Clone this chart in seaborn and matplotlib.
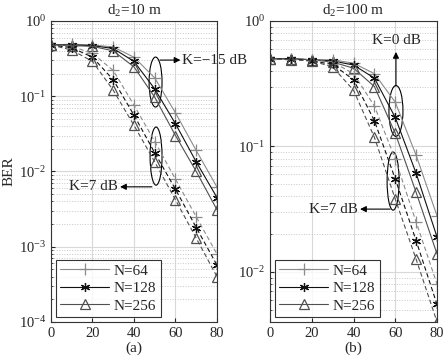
import numpy as np
import pandas as pd
import matplotlib
matplotlib.use('Agg')
import matplotlib.pyplot as plt
import seaborn as sns
from matplotlib.patches import Ellipse
from matplotlib.lines import Line2D
from matplotlib.ticker import LogLocator, NullFormatter

# Дані
snr = [0, 10, 20, 30, 40, 50, 60, 70, 80]
n_labels = ['N=64', 'N=128', 'N=256']

# (a) d2=10 m, K=-15 dB (суцільні) та K=7 dB (штрихові)
a_k15_n64 = [0.48, 0.49, 0.48, 0.45, 0.33, 0.175, 0.060, 0.019, 0.0062]
a_k15_n128 = [0.48, 0.48, 0.47, 0.43, 0.29, 0.125, 0.043, 0.0134, 0.0045]
a_k15_n256 = [0.48, 0.47, 0.46, 0.40, 0.245, 0.097, 0.030, 0.010, 0.0031]
a_k7_n64 = [0.48, 0.46, 0.37, 0.22, 0.076, 0.025, 0.0079, 0.0025, 0.0008]
a_k7_n128 = [0.48, 0.44, 0.33, 0.165, 0.056, 0.0177, 0.0058, 0.0018, 0.00057]
a_k7_n256 = [0.48, 0.41, 0.29, 0.12, 0.041, 0.0134, 0.0042, 0.0013, 0.0004]

# (b) d2=100 m, K=0 dB (суцільні) та K=7 dB (штрихові)
b_k0_n64 = [0.5, 0.5, 0.49, 0.49, 0.46, 0.38, 0.225, 0.085, 0.028]
b_k0_n128 = [0.5, 0.5, 0.49, 0.48, 0.445, 0.35, 0.17, 0.061, 0.019]
b_k0_n256 = [0.5, 0.5, 0.49, 0.47, 0.42, 0.30, 0.127, 0.043, 0.0139]
b_k7_n64 = [0.5, 0.5, 0.49, 0.47, 0.38, 0.21, 0.079, 0.025, 0.008]
b_k7_n128 = [0.5, 0.5, 0.48, 0.45, 0.34, 0.16, 0.055, 0.0177, 0.0055]
b_k7_n256 = [0.5, 0.49, 0.48, 0.43, 0.28, 0.118, 0.038, 0.0126, 0.0040]

sns.set_style('ticks')
plt.rcParams['font.family'] = ['Liberation Serif', 'DejaVu Serif']
plt.rcParams['mathtext.fontset'] = 'custom'
plt.rcParams['mathtext.rm'] = 'Liberation Serif'
plt.rcParams['mathtext.it'] = 'Liberation Serif:italic'
plt.rcParams['font.size'] = 10.5

colors = ['#8a8a8a', '#111111', '#505050']
markers = ['+', (6, 2, 0), '^']
msizes = [8, 6.5, 6.5]
mfcs = [colors[0], colors[1], 'none']

fig = plt.figure(figsize=(4.45, 3.61), dpi=100)
ax1 = fig.add_axes([0.1146, 0.108, 0.373, 0.834])
ax2 = fig.add_axes([0.607, 0.108, 0.375, 0.834])


def draw_group(ax, series, ls):
    for i, vals in enumerate(series):
        df = pd.DataFrame({'snr': snr, 'ber': vals})
        sns.lineplot(data=df, x='snr', y='ber', ax=ax, color=colors[i],
                     linestyle=ls, linewidth=0.8, marker=markers[i],
                     markersize=msizes[i], markerfacecolor=mfcs[i],
                     markeredgecolor=colors[i], markeredgewidth=0.9,
                     legend=False)


draw_group(ax1, [a_k15_n64, a_k15_n128, a_k15_n256], '-')
draw_group(ax1, [a_k7_n64, a_k7_n128, a_k7_n256], (0, (4, 2.5)))
draw_group(ax2, [b_k0_n64, b_k0_n128, b_k0_n256], '-')
draw_group(ax2, [b_k7_n64, b_k7_n128, b_k7_n256], (0, (4, 2.5)))

for ax, ylim, title, xl in [(ax1, (1e-4, 1), 'd$_2$=10 m', '(a)'),
                            (ax2, (10 ** -2.4, 1), 'd$_2$=100 m', '(b)')]:
    ax.set_yscale('log')
    ax.set_xlim(0, 80)
    ax.set_ylim(*ylim)
    ax.set_xticks([0, 20, 40, 60, 80])
    ax.yaxis.set_major_locator(LogLocator(base=10, numticks=10))
    ax.yaxis.set_minor_locator(LogLocator(base=10, subs=np.arange(2, 10), numticks=20))
    ax.yaxis.set_minor_formatter(NullFormatter())
    ax.tick_params(direction='in', which='both', labelsize=10.5, length=3)
    ax.tick_params(which='minor', length=1.5)
    ax.grid(True, which='major', color='#d8d8d8', linewidth=0.8)
    ax.grid(True, which='minor', axis='y', color='#c8c8c8', linestyle=':', linewidth=0.7)
    for s in ax.spines.values():
        s.set_linewidth(0.8)
        s.set_color('#333333')
    ax.set_title(title, fontsize=11, pad=4)
    ax.set_xlabel(xl, fontsize=11, labelpad=1)
    ax.set_ylabel('')
    handles = [Line2D([0], [0], color=colors[i], linewidth=0.8, marker=markers[i],
                      markersize=msizes[i], markerfacecolor=mfcs[i],
                      markeredgecolor=colors[i], markeredgewidth=0.9)
               for i in range(3)]
    leg = ax.legend(handles, n_labels, loc='lower left', fontsize=11, frameon=True,
                    fancybox=False, edgecolor='black', handlelength=3.2,
                    borderpad=0.3, labelspacing=0.25, handletextpad=0.3,
                    borderaxespad=0.3)
    leg.get_frame().set_linewidth(0.8)

ax1.set_ylabel('BER', fontsize=11, labelpad=2)

# Еліпси та стрілки-анотації
ax1.add_patch(Ellipse((0.63, 0.797), 0.078, 0.166, transform=ax1.transAxes,
                      fill=False, edgecolor='black', linewidth=0.8))
ax1.add_patch(Ellipse((0.633, 0.551), 0.072, 0.193, transform=ax1.transAxes,
                      fill=False, edgecolor='black', linewidth=0.8))
ax2.add_patch(Ellipse((0.754, 0.701), 0.084, 0.169, transform=ax2.transAxes,
                      fill=False, edgecolor='black', linewidth=0.8))
ax2.add_patch(Ellipse((0.737, 0.468), 0.072, 0.193, transform=ax2.transAxes,
                      fill=False, edgecolor='black', linewidth=0.8))

arrow = dict(arrowstyle='-|>', color='black', linewidth=0.8, mutation_scale=9,
             shrinkA=0, shrinkB=0)
ax1.annotate('', xy=(0.78, 0.870), xytext=(0.657, 0.870),
             xycoords='axes fraction', arrowprops=arrow)
ax1.text(0.79, 0.870, 'K=\u221215 dB', transform=ax1.transAxes, fontsize=11,
         va='center', ha='left', clip_on=False)
ax1.annotate('', xy=(0.416, 0.449), xytext=(0.608, 0.449),
             xycoords='axes fraction', arrowprops=arrow)
ax1.text(0.405, 0.449, 'K=7 dB', transform=ax1.transAxes, fontsize=11,
         va='center', ha='right')

ax2.annotate('', xy=(0.754, 0.897), xytext=(0.754, 0.784),
             xycoords='axes fraction', arrowprops=arrow)
ax2.text(0.754, 0.935, 'K=0 dB', transform=ax2.transAxes, fontsize=11,
         va='center', ha='center')
ax2.annotate('', xy=(0.539, 0.375), xytext=(0.719, 0.375),
             xycoords='axes fraction', arrowprops=arrow)
ax2.text(0.528, 0.375, 'K=7 dB', transform=ax2.transAxes, fontsize=11,
         va='center', ha='right')

fig.savefig('out.png', dpi=100)
